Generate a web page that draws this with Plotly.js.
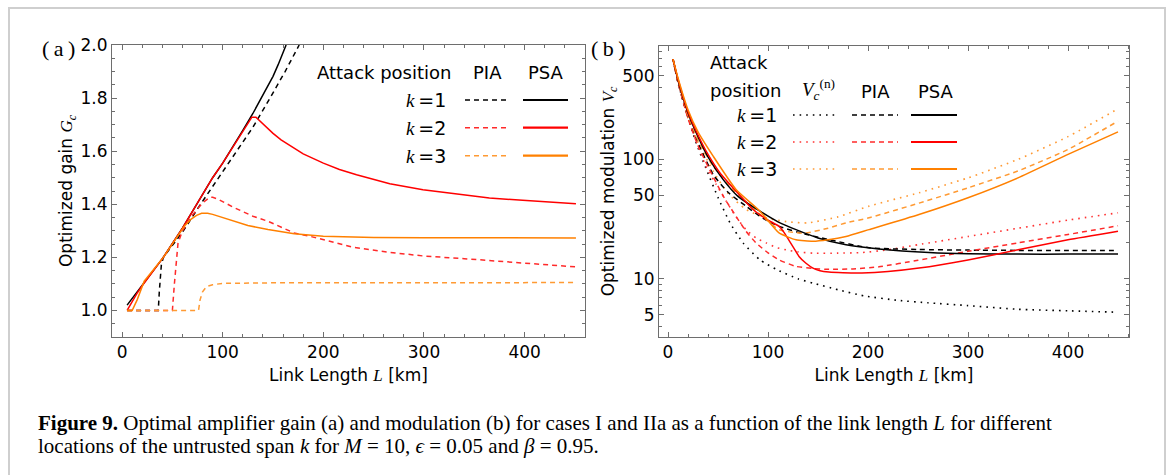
<!DOCTYPE html>
<html>
<head>
<meta charset="utf-8">
<script src="https://cdn.plot.ly/plotly-3.0.1.min.js"></script>
<style>
html,body{margin:0;padding:0;background:#fff;}
#frame{position:absolute;left:8px;top:7px;width:1154px;height:520px;border:2px solid #cfcfcf;border-bottom:none;}
#chart{position:absolute;left:0;top:0;width:1171px;height:475px;}
</style>
</head>
<body>
<div id="frame"></div>
<div id="chart"></div>
<script>
// ---------- Panel (a): optimized gain G_c vs link length L ----------
const aL_k1_PSA = [5,20,41,60,74,90,100,110,120,130,140,150,155,163];
const aG_k1_PSA = [1.02,1.095,1.2,1.31,1.4,1.5,1.555,1.615,1.678,1.742,1.81,1.882,1.925,2.0];
const aL_k1_PIA = [5,36,37,39,41,50,60,78,96,114,130,147,162,176];
const aG_k1_PIA = [1.0,1.0,1.07,1.17,1.2,1.245,1.295,1.4,1.5,1.6,1.69,1.8,1.9,2.0];
const aL_k2_PSA = [5,10,15,20,41,60,74,90,100,110,120,129,133,137,142,150,158,167,180,200,216,233,250,266,299,332,365,398,451];
const aG_k2_PSA = [1.0,1.035,1.065,1.093,1.2,1.31,1.4,1.5,1.555,1.615,1.676,1.728,1.728,1.714,1.695,1.667,1.643,1.622,1.59,1.555,1.531,1.511,1.492,1.477,1.455,1.439,1.424,1.415,1.402];
const aL_k2_PIA = [5,50,52,55.6,60,70,80,85,87,90,95,111,130,145,171,187,230,266,300,340,375,410,451];
const aG_k2_PIA = [1.0,1.0,1.1,1.254,1.3,1.36,1.405,1.422,1.426,1.426,1.42,1.388,1.355,1.336,1.292,1.279,1.238,1.219,1.205,1.195,1.185,1.175,1.164];
const aL_k3_PSA = [5,10,15,22,41,55,62,68,74,79,85,90,100,111,125,145,171,200,250,300,451];
const aG_k3_PSA = [1.0,1.0,1.04,1.11,1.2,1.28,1.318,1.342,1.358,1.366,1.366,1.362,1.35,1.336,1.32,1.305,1.289,1.28,1.275,1.274,1.273];
const aL_k3_PIA = [5,76,77.5,80,84,90,100,150,451];
const aG_k3_PIA = [1.0,1.0,1.04,1.07,1.09,1.097,1.102,1.104,1.105];

// ---------- Panel (b): optimized modulation V_c vs link length L ----------
const bL_k1_N = [5,10,15,20,25,30,38.5,50,62,75,92,110,130,145,170,196,230,260,300,350,400,450];
const bV_k1_N = [690,440,310,225,165,125,82,48,29.4,20,14.4,11.8,10.0,9.2,8.1,7.2,6.6,6.3,5.97,5.56,5.4,5.25];
const bL_k1_PIA = [5,10,15,20,28.5,45,60,78,95,111,130,161,201,251,300,350,400,450];
const bV_k1_PIA = [690,440,310,225,147,75,53,40.6,32,27.5,24.5,21.3,18.2,17.6,17.4,17.3,17.3,17.3];
const bL_k1_PSA = [5,10,15,20,30,40,55,70,92,110,128,150,178,211,261,300,350,400,450];
const bV_k1_PSA = [690,460,330,245,155,105,68,49,36.8,30,25.8,22,19.3,17.8,16.6,16.2,16.1,16.1,16.1];
const bL_k2_N = [5,10,20,30,38.5,48,58,68,78,88,98,108,118,130,145,170,194,220,250,300,350,400,450];
const bV_k2_N = [690,445,225,130,85,62,45,33,25.8,22,20,18.3,17.5,16.8,16.4,16.4,16.6,17.5,19.3,22.6,26.5,31,35.7];
const bL_k2_PIA = [5,10,20,30,45,56,68,78,88,100,111,128,145,161,185,211,250,300,350,400,450];
const bV_k2_PIA = [690,440,220,130,72,48,33.4,25,20,16.5,14.4,12.7,12.2,12.0,12.1,12.6,14.3,17,20,23.5,27.8];
const bL_k2_PSA = [5,10,20,30,40,52,70,85,100,111,116,121,126,131,138,145,152,161,175,194,220,251,300,350,400,450];
const bV_k2_PSA = [690,470,250,160,110,77,52,38,31,27.5,24.5,21,18,15.4,13.5,12.3,11.7,11.4,11.25,11.2,11.5,12.3,14.4,17.5,21.2,25];
const bL_k3_N = [5,10,20,30,45,60,78,100,120,140,170,201,251,300,350,400,450];
const bV_k3_N = [690,450,230,140,80,52,38,32,30,29.4,33,40.6,52.5,70,100,155,265];
const bL_k3_PIA = [5,10,20,30,45,68,95,111,125,138,160,178,201,251,300,350,400,450];
const bV_k3_PIA = [690,450,235,145,88,52.5,33,25.8,24.5,24.2,26.5,29.4,32.4,43,57.8,80,121,209];
const bL_k3_PSA = [5,10,20,30,45,68,92,111,128,145,160,178,201,251,300,350,400,450];
const bV_k3_PSA = [690,480,260,170,107,56,36.8,24.2,21.2,20.6,21.2,22.6,25.8,34.5,47.7,70,110,170];

// ---------- ticks ----------
const xTickVals = [0,100,200,300,400];
const aYTickVals = [1.0,1.2,1.4,1.6,1.8,2.0];
const aYTickText = ['1.0','1.2','1.4','1.6','1.8','2.0'];
const bYTickVals = [5,10,50,100,500];
const bYTickText = ['5','10','50','100','500'];
const bYMinorVals = [2,3,4,6,7,8,9,20,30,40,60,70,80,90,200,300,400,600,700,800,900];

const BLACK='#000000', RED='#ff0000', ORANGE='#ff8000';
const RED_D='#ff2a2a', ORANGE_D='#ff9a33', RED_N='#ff3333', ORANGE_N='#ff9933';
const DASH='5px,4px', DOT='1.6px,5px';

function tr(x,y,color,dash,xa,ya,w,shape){
  const line={color:color,width:w||1.5,dash:dash||'solid',shape:shape||'linear'};
  if(shape==='spline') line.smoothing=0.5;
  return {x:x,y:y,type:'scatter',mode:'lines',xaxis:xa,yaxis:ya,showlegend:false,hoverinfo:'skip',line:line};
}
const data = [
  tr(aL_k1_PIA,aG_k1_PIA,BLACK,DASH,'x','y'),
  tr(aL_k1_PSA,aG_k1_PSA,BLACK,'solid','x','y'),
  tr(aL_k2_PIA,aG_k2_PIA,RED_D,DASH,'x','y'),
  tr(aL_k2_PSA,aG_k2_PSA,RED,'solid','x','y'),
  tr(aL_k3_PIA,aG_k3_PIA,ORANGE_D,DASH,'x','y'),
  tr(aL_k3_PSA,aG_k3_PSA,ORANGE,'solid','x','y'),

  tr(bL_k1_N,bV_k1_N,BLACK,DOT,'x2','y2',1.6,'spline'),
  tr(bL_k2_N,bV_k2_N,RED_N,DOT,'x2','y2',1.6,'spline'),
  tr(bL_k3_N,bV_k3_N,ORANGE_N,DOT,'x2','y2',1.6,'spline'),
  tr(bL_k1_PIA,bV_k1_PIA,BLACK,DASH,'x2','y2',1.5,'spline'),
  tr(bL_k2_PIA,bV_k2_PIA,RED_D,DASH,'x2','y2',1.5,'spline'),
  tr(bL_k3_PIA,bV_k3_PIA,ORANGE_D,DASH,'x2','y2',1.5,'spline'),
  tr(bL_k1_PSA,bV_k1_PSA,BLACK,'solid','x2','y2',1.5,'spline'),
  tr(bL_k2_PSA,bV_k2_PSA,RED,'solid','x2','y2',1.5,'spline'),
  tr(bL_k3_PSA,bV_k3_PSA,ORANGE,'solid','x2','y2',1.5,'spline')
];

const W=1171, H=475;
const px = v => v/W, py = v => 1 - v/H;
const FRAME='#6e6e6e';
const SANS='DejaVu Sans';
const SERIF='Liberation Serif';

function xaxis(domain, anchor){
  return {domain:domain, anchor:anchor, range:[-10,460], tickmode:'array', tickvals:xTickVals,
    ticks:'inside', ticklen:5, tickcolor:FRAME, tickwidth:1, showline:true, linecolor:FRAME, linewidth:1,
    mirror:'ticks', showgrid:false, zeroline:false,
    minor:{dtick:20, tick0:0, ticks:'inside', ticklen:3, tickcolor:FRAME, showgrid:false},
    tickfont:{family:SANS,size:17,color:'#000'},
    title:{text:'Link Length <span style="font-family:'+SERIF+'"><i>L</i></span> [km]', font:{family:SANS,size:17,color:'#000'}, standoff:7}};
}

const layout = {
  width:W, height:H, margin:{l:0,r:0,t:0,b:0}, paper_bgcolor:'rgba(0,0,0,0)', plot_bgcolor:'rgba(0,0,0,0)',
  xaxis: xaxis([px(112),px(585)],'y'),
  xaxis2: Object.assign(xaxis([px(659),px(1129)],'y2'),{range:[-9,461]}),
  yaxis: {domain:[py(337),py(45)], anchor:'x', range:[0.9,2.0], tickmode:'array', tickvals:aYTickVals, ticktext:aYTickText,
    ticks:'inside', ticklen:5, tickcolor:FRAME, showline:true, linecolor:FRAME, linewidth:1, mirror:'ticks',
    showgrid:false, zeroline:false,
    minor:{dtick:0.05, tick0:0, ticks:'inside', ticklen:3, tickcolor:FRAME, showgrid:false},
    tickfont:{family:SANS,size:17,color:'#000'},
    title:{text:'Optimized gain <span style="font-family:'+SERIF+'"><i>G</i><sub><i>c</i></sub></span>', font:{family:SANS,size:17,color:'#000'}, standoff:3}},
  yaxis2: {domain:[py(337),py(46)], anchor:'x2', type:'log', range:[0.513,2.949], tickmode:'array', tickvals:bYTickVals, ticktext:bYTickText,
    ticks:'inside', ticklen:5, tickcolor:FRAME, showline:true, linecolor:FRAME, linewidth:1, mirror:'ticks',
    showgrid:false, zeroline:false,
    minor:{tickvals:bYMinorVals, ticks:'inside', ticklen:3, tickcolor:FRAME, showgrid:false},
    tickfont:{family:SANS,size:17,color:'#000'},
    title:{text:'Optimized modulation <span style="font-family:'+SERIF+'"><i>V</i><sub><i>c</i></sub></span>', font:{family:SANS,size:17,color:'#000'}, standoff:3}},
  shapes:[], annotations:[]
};

function ann(text,x,y,xanchor,size,family,extra){
  layout.annotations.push(Object.assign({text:text,x:px(x),y:py(y),xref:'paper',yref:'paper',showarrow:false,
    xanchor:xanchor||'center',yanchor:'middle',font:{family:family||SANS,size:size||18,color:'#000'}},extra||{}));
}
function seg(x0,x1,y,color,dash,w){
  layout.shapes.push({type:'line',xref:'paper',yref:'paper',x0:px(x0),x1:px(x1),y0:py(y),y1:py(y),
    line:{color:color,width:w||2,dash:dash}});
}
const kTxt = n => '<span style="font-family:'+SERIF+'"><i>k</i></span>\u2009=' + n;

// panel labels
ann('(\u2009a\u2009)',58,48,'center',22,SERIF);
ann('(\u2009b\u2009)',608,48,'center',22,SERIF);

// legend (a)
ann('Attack position',384,73,'center',18);
ann('PIA',487,73,'center',18);
ann('PSA',546,73,'center',18);
const aRows=[100,127.7,155.7], colsA=[[BLACK,BLACK],[RED_D,RED],[ORANGE_D,ORANGE]];
aRows.forEach((y,i)=>{
  ann(kTxt(i+1),448,y,'right',19);
  seg(465,510,y,colsA[i][0],DASH,1.6);
  seg(523,568,y,colsA[i][1],'solid',2.2);
});

// legend (b)
ann('Attack',708,62,'left',18);
ann('position',708,90,'left',18);
ann('<span style="font-family:'+SERIF+'"><i>V</i><sub><i>c</i></sub><sup>(n)</sup></span>',800,89,'left',19);
ann('PIA',875,91,'center',18);
ann('PSA',936,91,'center',18);
const bRows=[115,142,169], colsB=[[BLACK,BLACK,BLACK],[RED_N,RED_D,RED],[ORANGE_N,ORANGE_D,ORANGE]];
bRows.forEach((y,i)=>{
  ann(kTxt(i+1),779,y,'right',19);
  seg(793,838,y,colsB[i][0],DOT,1.6);
  seg(852,898,y,colsB[i][1],DASH,1.6);
  seg(911,957,y,colsB[i][2],'solid',2.2);
});

// caption
ann('<b>Figure 9.</b> Optimal amplifier gain (a) and modulation (b) for cases I and IIa as a function of the link length <i>L</i> for different',36,423,'left',21,SERIF);
ann('locations of the untrusted span <i>k</i> for <i>M</i> = 10, <i>\u03f5</i> = 0.05 and <i>\u03b2</i> = 0.95.',36,446,'left',21,SERIF);

Plotly.newPlot('chart', data, layout, {staticPlot:true, displayModeBar:false});
</script>
</body>
</html>
